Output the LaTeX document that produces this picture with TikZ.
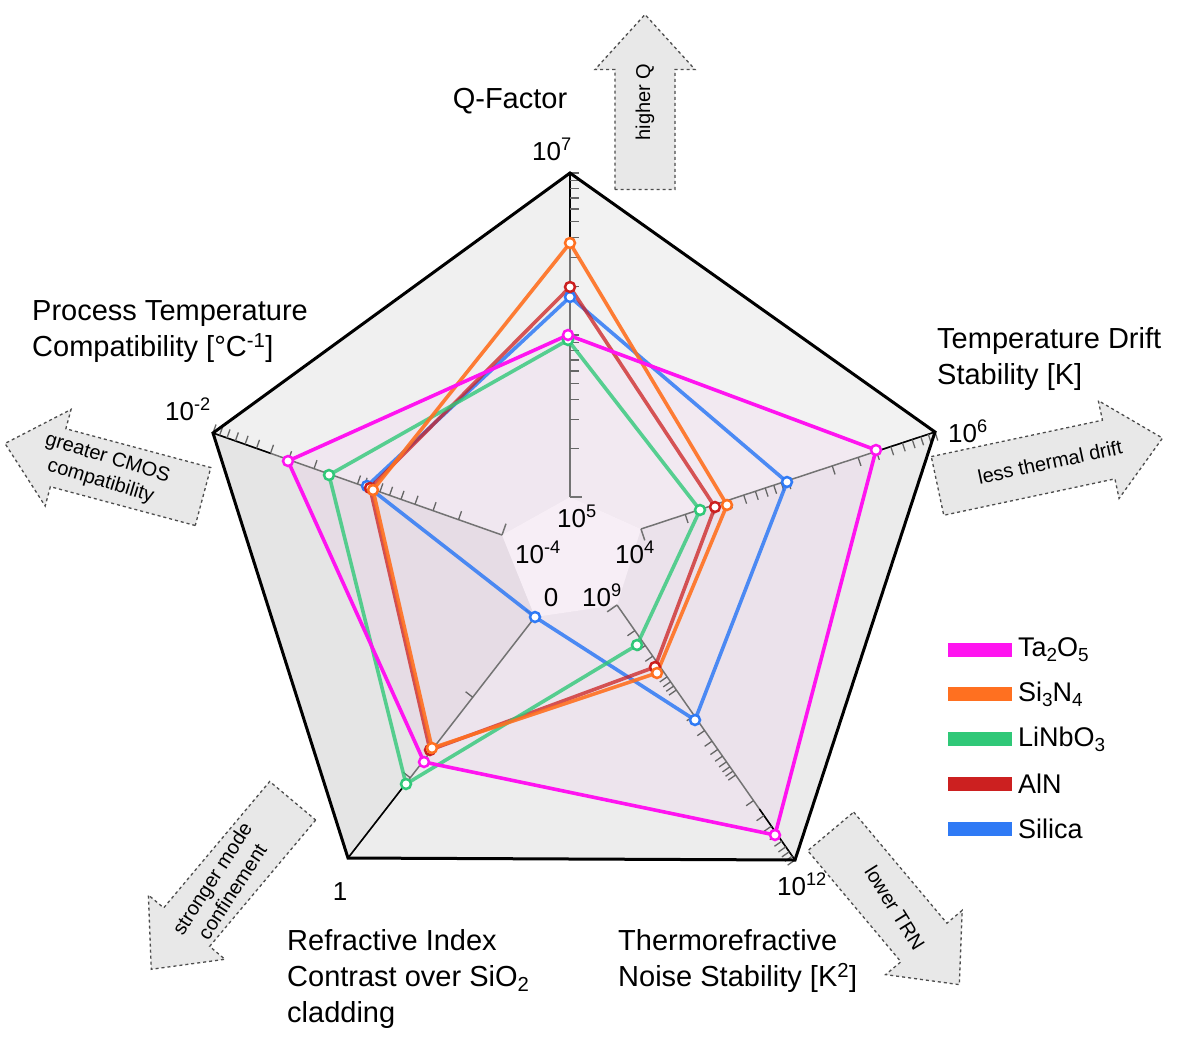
\documentclass[tikz,border=0pt]{standalone}
\usepackage{fontspec}
\setmainfont{Liberation Sans}
\usetikzlibrary{calc}
\definecolor{cTa}{HTML}{FF14F0}
\definecolor{cSi}{HTML}{FF7020}
\definecolor{cLi}{HTML}{30C878}
\definecolor{cAl}{HTML}{CC2020}
\definecolor{cSl}{HTML}{2F7AF5}
\tikzset{
 lab/.style={font=\fontsize{29}{36}\selectfont,align=left,inner sep=0pt},
 tk/.style={font=\fontsize{26}{30}\selectfont,inner sep=0pt},
 series/.style={line width=3.6pt,line join=round},
 mk/.style={draw=#1,fill=white,line width=2.5pt},
 barrow/.style={draw=black!70,dashed,line width=1.3pt,fill=black!9},
 atext/.style={font=\fontsize{20}{24}\selectfont,align=center,inner sep=0pt},
}
\newcommand{\blockarrow}[6]{% center, angle, length, text, name, text angle
 \begin{scope}[shift={#1},rotate=#2]
  \draw[barrow] (-#3/2,-30) -- (#3/2-55,-30) -- (#3/2-55,-50) -- (#3/2,0) -- (#3/2-55,50) -- (#3/2-55,30) -- (-#3/2,30) -- cycle;
 \end{scope}
 \node[atext,rotate=#6] (#5) at #1 {#4};
}
\newcommand{\sups}[1]{\textsuperscript{#1}}
\newcommand{\subs}[1]{\raisebox{-0.35ex}{\scalebox{0.7}{#1}}}
\begin{document}
\begin{tikzpicture}[x=1pt,y=-1pt]
\useasboundingbox (0,0) rectangle (1200,1061);
\fill[white] (0,0) rectangle (1200,1061);
\coordinate (Oq) at (570,173); \coordinate (Ot) at (935,432);
\coordinate (On) at (795,860); \coordinate (Or) at (348,858);
\coordinate (Op) at (213,433);
\coordinate (Iq) at (570,497); \coordinate (It) at (641,529);
\coordinate (In) at (617,605); \coordinate (Ir) at (535,617);
\coordinate (Ip) at (502,535);
% background faces
\fill[black!8] (Oq)--(Ot)--(On)--(Or)--(Op)--cycle;
\fill[black!5] (Oq)--(Ot)--(It)--(Iq)--cycle;
\fill[black!6] (Op)--(Oq)--(Iq)--(Ip)--cycle;
\fill[black!10] (Or)--(Op)--(Ip)--(Ir)--cycle;
\fill[black!7] (Or)--(On)--(In)--(Ir)--cycle;
\fill[black!3] (Iq)--(It)--(In)--(Ir)--(Ip)--cycle;
\fill[cTa,opacity=0.04] (568,335)--(876,450)--(775,835)--(424,762)--(288,461)--cycle;
% axes
\foreach \o/\i/\d in {Oq/Iq/2,Ot/It/2,On/In/3,Op/Ip/2}{
 \draw[black!55,line width=1.5pt] (\i)--(\o);
 \draw[black,line width=1.5pt] (\o)--($(\o)!0.2!(\i)$);
 \foreach \k in {0,...,\numexpr\d-1\relax}{
  \foreach \m in {2,...,10}{
   \pgfmathsetmacro{\p}{(\k+log10(\m))/\d}
   \draw[black!60,line width=1.3pt] ($(\i)!\p!(\o)$) -- ($($(\i)!\p!(\o)$)!9pt!-90:(\o)$);
  }}
 \draw[black!55,line width=1.5pt] (\i) -- ($(\i)!12pt!-90:(\o)$);
}
\draw[black!55,line width=1.5pt] (Ir)--(Or);
\draw[black,line width=1.5pt] (Or)--($(Or)!0.3!(Ir)$);
\foreach \p in {0.333,0.667}{
 \draw[black!60,line width=1.3pt] ($(Ir)!\p!(Or)$) -- ($($(Ir)!\p!(Or)$)!9pt!-90:(Or)$);}
\draw[black!55,line width=1.5pt] (Ir) -- ($(Ir)!12pt!-90:(Or)$);
% outer pentagon
\draw[line width=3pt,line join=miter] (Oq)--(Ot)--(On)--(Or)--(Op)--cycle;
% series
\draw[series,cSl,opacity=0.85] (570,297)--(787,482)--(695,720)--(535,617)--(367,486)--cycle;
\draw[series,cAl,opacity=0.75] (570,287)--(715,507)--(655,667)--(430,750)--(370,488)--cycle;
\draw[series,cLi,opacity=0.8] (568,340)--(700,510)--(637,645)--(406,784)--(329,475)--cycle;
\draw[series,cSi,opacity=0.9] (570,243)--(727,505)--(657,673)--(432,748)--(373,490)--cycle;
\draw[series,cTa] (568,335)--(876,450)--(775,835)--(424,762)--(288,461)--cycle;
\foreach \c/\pts in {cSl/{(570,297),(787,482),(695,720),(535,617),(367,486)},
 cAl/{(570,287),(715,507),(655,667),(430,750),(370,488)},
 cLi/{(568,340),(700,510),(637,645),(406,784),(329,475)},
 cSi/{(570,243),(727,505),(657,673),(432,748),(373,490)},
 cTa/{(568,335),(876,450),(775,835),(424,762),(288,461)}}{
 \foreach \pt in \pts {\draw[mk=\c] \pt circle (5);}}
% labels
\node[lab,anchor=base] (lq) at (510,108) {Q-Factor};
\node[tk,anchor=base] (tq) at (552,160) {10\sups{7}};
\node[lab,anchor=north west] (lp) at (32,300) {Process Temperature\\Compatibility [°C\sups{-1}]};
\node[tk,anchor=base] (tp) at (188,420) {10\sups{-2}};
\node[lab,anchor=north west] (lt) at (937,327) {Temperature Drift\\Stability [K]};
\node[tk,anchor=base] (tt) at (968,442) {10\sups{6}};
\node[tk,anchor=base] (tr) at (340,900) {1};
\node[lab,anchor=north west] (lr) at (287,929) {Refractive Index\\Contrast over SiO\subs{2}\\cladding};
\node[tk,anchor=base] (tn) at (802,895) {10\sups{12}};
\node[lab,anchor=north west] (ln) at (618,929) {Thermorefractive\\Noise Stability [K\sups{2}]};
\node[tk,anchor=base] (iq) at (577,527) {10\sups{5}};
\node[tk,anchor=base] (ip) at (538,563) {10\sups{-4}};
\node[tk,anchor=base] (it) at (635,563) {10\sups{4}};
\node[tk,anchor=base] (ir) at (551,606) {0};
\node[tk,anchor=base] (in) at (602,606) {10\sups{9}};
% block arrows
\blockarrow{(645,102)}{90}{175}{higher Q}{a1}{90}
\blockarrow{(1050,462)}{12}{230}{less thermal drift}{a2}{12}
\blockarrow{(104,470)}{165}{205}{greater CMOS\\compatibility}{a3}{-17}
\blockarrow{(222,885)}{230}{220}{stronger mode\\confinement}{a4}{57}
\blockarrow{(895,908)}{-50}{200}{lower TRN}{a5}{-58}
% legend
\foreach \c/\t/\y/\n in {cTa/Ta\subs{2}O\subs{5}/650/g1,cSi/Si\subs{3}N\subs{4}/694/g2,cLi/LiNbO\subs{3}/739/g3,cAl/AlN/784/g4,cSl/Silica/829/g5}{
 \fill[\c] (948,\y-7) rectangle (1012,\y+7);
 \node[lab,anchor=west,font=\fontsize{27}{32}\selectfont] (\n) at (1018,\y) {\t};
}
\end{tikzpicture}
\end{document}
